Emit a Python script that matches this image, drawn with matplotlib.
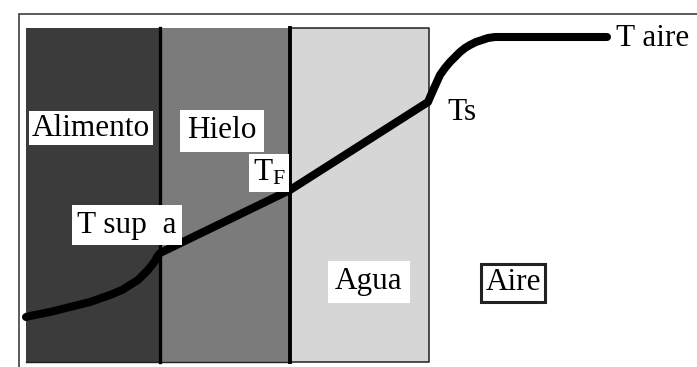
import matplotlib
matplotlib.use("Agg")
import matplotlib.pyplot as plt
from matplotlib.patches import Rectangle

plt.rcParams["font.family"] = ["Liberation Serif", "DejaVu Serif"]
plt.rcParams["mathtext.fontset"] = "custom"
plt.rcParams["mathtext.rm"] = "Liberation Serif"
plt.rcParams["mathtext.it"] = "Liberation Serif:italic"

# Layers: names, boundaries along the distance axis, fill colours
layer_names = ["Alimento", "Hielo", "Agua"]
layer_edges = [26, 160, 290, 429]
layer_colors = ["#3b3b3b", "#7b7b7b", "#d6d6d6"]
layer_bottom = 5
layer_top = 339

# Temperature profile through the layers and into the air
profile_x = [26, 30, 50, 70, 90, 110, 122, 130, 138, 143, 148, 152, 155, 157,
             160, 290, 428, 431, 435, 440, 445, 450, 455, 460, 465, 470, 476,
             482, 488, 495, 505, 515, 607]
profile_t = [50, 51, 55, 60, 65, 72, 77, 82, 87, 92, 97, 102, 106, 110,
             114, 177, 265, 272, 281, 292, 299, 305, 310, 315, 319, 322, 325,
             327, 329, 330, 330, 330, 330]

fig = plt.figure(figsize=(6.97, 3.67), dpi=100)
ax = fig.add_axes([0, 0, 1, 1])
ax.set_xlim(0, 697)
ax.set_ylim(0, 367)
ax.axis("off")

# outer frame (left and top edges)
ax.plot([19, 19, 697], [0, 353, 353], color="#404040", lw=1.2,
        solid_joinstyle="miter", zorder=1)

# layer blocks
for i, (name, c) in enumerate(zip(layer_names, layer_colors)):
    x0, x1 = layer_edges[i], layer_edges[i + 1]
    ax.add_patch(Rectangle((x0, layer_bottom), x1 - x0, layer_top - layer_bottom,
                           facecolor=c, edgecolor="none", zorder=2))

# thin border around the water layer
x0, x1 = layer_edges[2], layer_edges[3]
ax.plot([x0, x1, x1, x0], [layer_top, layer_top, layer_bottom, layer_bottom],
        color="#202020", lw=1.1, zorder=3)
ax.plot([layer_edges[0], layer_edges[2]], [layer_bottom, layer_bottom],
        color="#202020", lw=1.0, zorder=3)

# interfaces
ax.plot([layer_edges[1]] * 2, [layer_bottom, layer_top], color="black", lw=2.4, zorder=4)
ax.plot([layer_edges[2]] * 2, [layer_bottom, layer_top], color="black", lw=2.8, zorder=4)

# temperature profile
ax.plot(profile_x, profile_t, color="black", lw=5.8, solid_capstyle="round",
        solid_joinstyle="round", zorder=6)

fs = 22.5
ax.text(91, 239, "Alimento", fontsize=fs, ha="center", va="center",
        bbox=dict(facecolor="white", edgecolor="none", pad=2), zorder=7)
ax.text(222, 236, "Hielo", fontsize=fs, ha="center", va="center",
        bbox=dict(facecolor="white", edgecolor="none", pad=5), zorder=7)
ax.text(269, 194, r"T$_\mathregular{F}$", fontsize=fs, ha="center", va="center",
        bbox=dict(facecolor="white", edgecolor="none", pad=3), zorder=7)
ax.text(127, 142, "T sup  a", fontsize=fs, ha="center", va="center",
        bbox=dict(facecolor="white", edgecolor="none", pad=4), zorder=7)
ax.text(369, 85, "Agua", fontsize=fs, ha="center", va="center",
        bbox=dict(facecolor="white", edgecolor="none", pad=5), zorder=7)
ax.text(513, 84, "Aire", fontsize=fs, ha="center", va="center",
        bbox=dict(facecolor="white", edgecolor="#222222", lw=2.2, pad=3), zorder=7)
ax.text(447, 254, "Ts", fontsize=fs, ha="left", va="center", zorder=7)
ax.text(616, 329, "T aire", fontsize=fs, ha="left", va="center", zorder=7)

fig.savefig("out.png", dpi=100)
